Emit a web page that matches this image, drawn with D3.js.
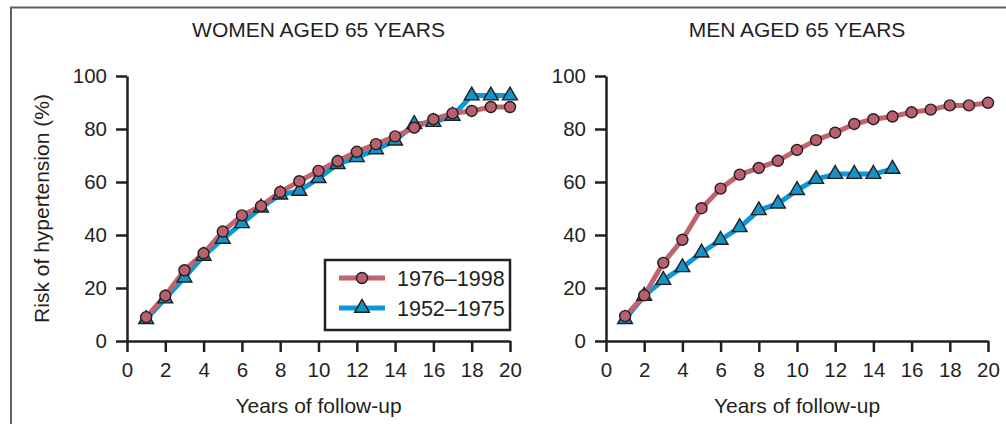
<!DOCTYPE html>
<html>
<head>
<meta charset="utf-8">
<script src="https://cdn.jsdelivr.net/npm/d3@7"></script>
<style>
  body { margin: 0; background: #fff; }
  svg { display: block; font-family: "Liberation Sans", Arial, sans-serif; }
  .tick text { font-size: 20.5px; fill: #231f20; }
  .tick line, .domain { stroke: #231f20; stroke-width: 2.5px; }
</style>
</head>
<body>
<svg id="chart" width="1006" height="424"></svg>
<script>
// years of follow-up
const years = d3.range(1, 21);
const xTicks = [0, 2, 4, 6, 8, 10, 12, 14, 16, 18, 20];
const yTicks = [0, 20, 40, 60, 80, 100];

// risk of hypertension (%)
const women7698 = [9, 17.1, 26.7, 33.1, 41.3, 47.4, 50.9, 56.2, 60.3, 64.2,
                   67.9, 71.4, 74.3, 77.2, 80.5, 83.7, 85.9, 86.8, 88.3, 88.3];
const women5275 = [8.2, 16, 23.9, 32.1, 38.5, 44.4, 50.3, 55.2, 56.6, 61.4,
                   66.7, 69.3, 72.3, 75.6, 81.8, 82.6, 84.9, 92.6, 92.6, 92.6];
const men7698 = [9.4, 17.2, 29.5, 38.2, 50.1, 57.5, 62.8, 65.3, 68, 72.1,
                 75.8, 78.6, 81.9, 83.7, 84.7, 86.3, 87.3, 88.9, 88.9, 89.9];
const men5275 = [8.2, 17, 23, 27.8, 33.3, 38.1, 42.9, 49.3, 51.8, 56.9,
                 61.1, 63, 63, 63, 64.9];

const seriesNames = ['1976\u20131998', '1952\u20131975'];
const panelTitles = ['WOMEN AGED 65 YEARS', 'MEN AGED 65 YEARS'];

const ink = '#231f20';
const redLine = '#c0646e', redFill = '#bb5f6c';
const blueLine = '#0a98d8', blueFill = '#1592c6';

const svg = d3.select('#chart');

// outer frame (runs off the right and bottom edges)
svg.append('path')
  .attr('d', 'M11,430 L11,7.5 L1012,7.5')
  .attr('fill', 'none')
  .attr('stroke', '#606060')
  .attr('stroke-width', 2);

const plotTop = 76, plotBottom = 341;
const panels = [
  { left: 127, right: 510, title: panelTitles[0], red: women7698, blue: women5275, legend: true, ylabel: true },
  { left: 606, right: 988, title: panelTitles[1], red: men7698, blue: men5275, legend: false, ylabel: false }
];

const tri = d3.symbol().type(d3.symbolTriangle).size(95);

const toPts = vals => vals.map((v, i) => [years[i], v]);

panels.forEach(p => {
  const x = d3.scaleLinear().domain([0, 20]).range([p.left, p.right]);
  const y = d3.scaleLinear().domain([0, 100]).range([plotBottom, plotTop]);
  const g = svg.append('g');

  g.append('text')
    .attr('x', (p.left + p.right) / 2)
    .attr('y', 37)
    .attr('text-anchor', 'middle')
    .attr('font-size', 21)
    .attr('fill', ink)
    .text(p.title);

  g.append('g')
    .attr('transform', `translate(0,${plotBottom})`)
    .call(d3.axisBottom(x).tickValues(xTicks).tickSize(11).tickSizeOuter(0).tickPadding(10));

  g.append('g')
    .attr('transform', `translate(${p.left},0)`)
    .call(d3.axisLeft(y).tickValues(yTicks).tickSize(11).tickSizeOuter(0).tickPadding(9));

  g.append('text')
    .attr('x', (p.left + p.right) / 2)
    .attr('y', 413)
    .attr('text-anchor', 'middle')
    .attr('font-size', 21)
    .attr('fill', ink)
    .text('Years of follow-up');

  if (p.ylabel) {
    g.append('text')
      .attr('transform', `translate(49,${(plotTop + plotBottom) / 2}) rotate(-90)`)
      .attr('text-anchor', 'middle')
      .attr('font-size', 21)
      .attr('fill', ink)
      .text('Risk of hypertension (%)');
  }

  const line = d3.line().x(d => x(d[0])).y(d => y(d[1]));

  // blue series (1952-1975)
  const bp = toPts(p.blue);
  g.append('path').datum(bp)
    .attr('d', line).attr('fill', 'none')
    .attr('stroke', blueLine).attr('stroke-width', 5).attr('stroke-linejoin', 'round');

  // red series (1976-1998)
  const rp = toPts(p.red);
  g.append('path').datum(rp)
    .attr('d', line).attr('fill', 'none')
    .attr('stroke', redLine).attr('stroke-width', 5).attr('stroke-linejoin', 'round');

  g.selectAll('.tri').data(bp).join('path')
    .attr('class', 'tri')
    .attr('d', tri)
    .attr('transform', d => `translate(${x(d[0])},${y(d[1])})`)
    .attr('fill', blueFill).attr('stroke', ink).attr('stroke-width', 1.4);

  g.selectAll('.dot').data(rp).join('circle')
    .attr('class', 'dot')
    .attr('cx', d => x(d[0])).attr('cy', d => y(d[1]))
    .attr('r', 5.5)
    .attr('fill', redFill).attr('stroke', ink).attr('stroke-width', 1.4);

  if (p.legend) {
    const lg = g.append('g');
    lg.append('rect')
      .attr('x', 325).attr('y', 260).attr('width', 185).attr('height', 70)
      .attr('fill', '#fff').attr('stroke', ink).attr('stroke-width', 2.5);
    const rows = [
      { name: seriesNames[0], col: redLine, yy: 278 },
      { name: seriesNames[1], col: blueLine, yy: 308 }
    ];
    rows.forEach((r, i) => {
      lg.append('line')
        .attr('x1', 339).attr('x2', 385).attr('y1', r.yy).attr('y2', r.yy)
        .attr('stroke', r.col).attr('stroke-width', 5);
      if (i === 0) {
        lg.append('circle').attr('cx', 362).attr('cy', r.yy).attr('r', 5.5)
          .attr('fill', redFill).attr('stroke', ink).attr('stroke-width', 1.4);
      } else {
        lg.append('path').attr('d', tri)
          .attr('transform', `translate(362,${r.yy})`)
          .attr('fill', blueFill).attr('stroke', ink).attr('stroke-width', 1.4);
      }
      lg.append('text')
        .attr('x', 397).attr('y', r.yy + 7.5)
        .attr('font-size', 21.5).attr('fill', ink)
        .text(r.name);
    });
  }
});
</script>
</body>
</html>
